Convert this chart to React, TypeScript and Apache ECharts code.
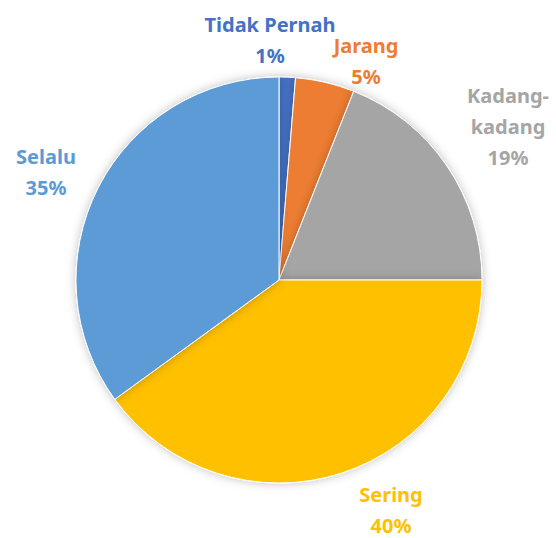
import React, { useEffect, useRef } from "react";
import * as echarts from "echarts";

const categories = ["Tidak Pernah", "Jarang", "Kadang-kadang", "Sering", "Selalu"];
const values = [1.3, 4.7, 19, 40, 35];
const percentLabels = ["1%", "5%", "19%", "40%", "35%"];
const colors = ["#4472C4", "#ED7D31", "#A5A5A5", "#FFC000", "#5B9BD5"];
const labelPositions = [
  [270, 40],
  [366, 61],
  [508, 126],
  [391, 510],
  [46, 172],
];

export default function App() {
  const ref = useRef<HTMLDivElement>(null);
  useEffect(() => {
    if (!ref.current) return;
    const chart = echarts.init(ref.current, null, { renderer: "svg" });
    chart.setOption({
      animation: false,
      backgroundColor: "#ffffff",
      series: [
        {
          type: "pie",
          center: [279, 280],
          radius: [0, 203],
          startAngle: 90,
          clockwise: true,
          data: categories.map((c, i) => ({
            name: c,
            value: values[i],
            itemStyle: { color: colors[i] },
            label: { color: colors[i] },
          })),
          itemStyle: {
            borderColor: "#ffffff",
            borderWidth: 1,
            shadowBlur: 10,
            shadowColor: "rgba(0,0,0,0.25)",
          },
          label: {
            show: true,
            position: "outside",
            alignTo: "none",
            overflow: "none",
            formatter: (p: any) =>
              p.name.replace("-", "-\n") + "\n" + percentLabels[p.dataIndex],
            fontFamily: "Noto Sans",
            fontWeight: "bold",
            fontSize: 20,
            lineHeight: 31,
            align: "center",
          },
          labelLine: { show: false },
          labelLayout: (p: any) => ({
            x: labelPositions[p.dataIndex][0],
            y: labelPositions[p.dataIndex][1],
            align: "center",
            verticalAlign: "middle",
          }),
          emphasis: { disabled: true },
        },
      ],
    });
    return () => chart.dispose();
  }, []);
  return (
    <div
      ref={ref}
      style={{ position: "fixed", left: 0, top: 0, width: 556, height: 538 }}
    />
  );
}
